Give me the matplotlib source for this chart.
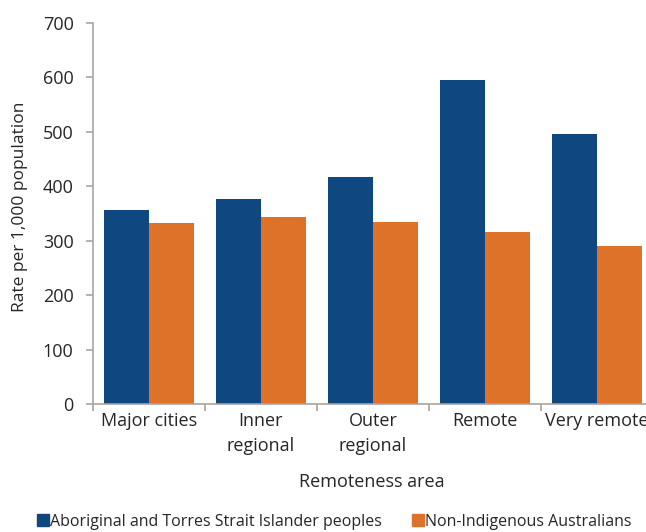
import numpy as np
import matplotlib
matplotlib.use("Agg")
import matplotlib.pyplot as plt
from matplotlib.lines import Line2D

plt.rcParams.update({"font.family": ["Open Sans", "DejaVu Sans"], "font.size": 10})

categories = ["Major cities", "Inner\nregional", "Outer\nregional", "Remote", "Very remote"]
indigenous = [356, 376, 417, 596, 496]
non_indigenous = [332, 344, 335, 316, 291]
series_names = ["Aboriginal and Torres Strait Islander peoples", "Non-Indigenous Australians"]

BLUE = "#0F4880"
ORANGE = "#DE7228"
GREY = "#A6A6A6"
TXT = "#262626"

fig = plt.figure(figsize=(6.46, 5.32), dpi=100)
ax = fig.add_axes([93/646, 128/532, 560/646, 381/532])

x = np.arange(len(categories))
w = 0.4
ax.bar(x - w/2, indigenous, w, color=BLUE)
ax.bar(x + w/2, non_indigenous, w, color=ORANGE)

ax.set_xlim(-0.5, len(categories) - 0.5)
ax.set_ylim(0, 700)
ax.set_yticks(range(0, 701, 100))
ax.set_xticks(np.arange(-0.5, len(categories), 1.0))
ax.set_xticklabels([])
ax.set_xticks(x, minor=True)
ax.set_xticklabels(categories, minor=True, color=TXT, fontsize=13)
ax.tick_params(axis="x", which="minor", length=0, pad=6)
ax.tick_params(axis="x", which="major", length=5, color=GREY, width=1.2)
ax.tick_params(axis="y", length=5, color=GREY, width=1.2, labelcolor=TXT, labelsize=13, pad=9)
for lab in ax.get_xticklabels(minor=True):
    lab.set_verticalalignment("top")
    lab.set_linespacing(1.45)

for s in ["top", "right"]:
    ax.spines[s].set_visible(False)
for s in ["left", "bottom"]:
    ax.spines[s].set_color(GREY)
    ax.spines[s].set_linewidth(1.2)

ax.set_ylabel("Rate per 1,000 population", color=TXT, fontsize=12.5)
ax.yaxis.set_label_coords(-65/560, 0.517)
fig.text(372/646, 1 - 482/532, "Remoteness area", ha="center", va="center", color=TXT, fontsize=13)

handles = [Line2D([], [], marker="s", ls="", color=BLUE, markersize=9),
           Line2D([], [], marker="s", ls="", color=ORANGE, markersize=9)]
fig.legend(handles, series_names, loc="center", bbox_to_anchor=(335/646, 1 - 522/532),
           ncol=2, frameon=False, handlelength=0.6, handletextpad=0.1, columnspacing=2.0,
           fontsize=11.5, labelcolor=TXT)

fig.savefig("out.png", dpi=100)
